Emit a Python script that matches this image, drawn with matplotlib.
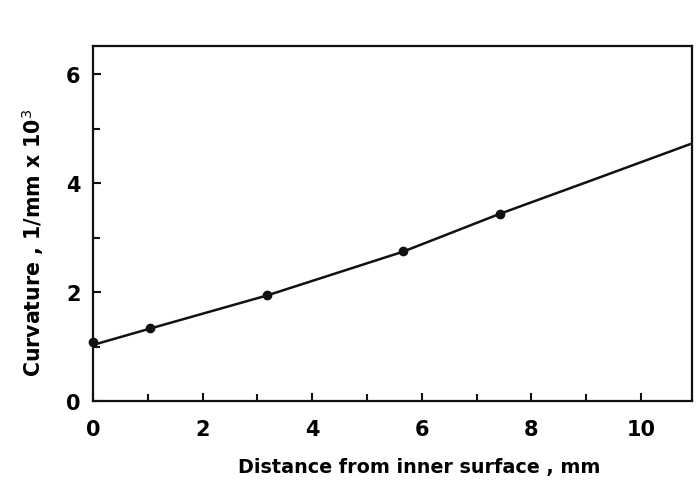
import matplotlib
matplotlib.use("Agg")
import matplotlib.pyplot as plt
from matplotlib.ticker import MultipleLocator

plt.rcParams['font.family'] = ['DejaVu Sans']

# measured points
dist = [0.0, 1.04, 3.18, 5.65, 7.43]
curv = [1.08, 1.34, 1.94, 2.75, 3.43]

# fitted curve
line_x = [0.0, 1.04, 3.18, 5.65, 7.43, 9.2, 10.93]
line_y = [1.03, 1.33, 1.94, 2.74, 3.44, 4.09, 4.73]

fig = plt.figure(figsize=(6.98, 4.81), dpi=100)
ax = fig.add_axes([0.1332, 0.1642, 0.858, 0.738])

ax.plot(line_x, line_y, color='#111111', lw=1.8, zorder=2)
ax.plot(dist, curv, 'o', color='#111111', ms=6, zorder=3, clip_on=False)

ax.set_xlim(0, 10.93)
ax.set_ylim(0, 6.52)
ax.xaxis.set_major_locator(MultipleLocator(2))
ax.xaxis.set_minor_locator(MultipleLocator(1))
ax.yaxis.set_major_locator(MultipleLocator(2))
ax.yaxis.set_minor_locator(MultipleLocator(1))
ax.tick_params(which='both', direction='in', top=False, right=False, width=1.5, color='#111111')
ax.tick_params(which='major', length=6, labelsize=15)
ax.tick_params(which='minor', length=5)
ax.tick_params(axis='x', pad=13)
ax.tick_params(axis='y', pad=9)
for s in ax.spines.values():
    s.set_linewidth(1.6)
    s.set_color('#111111')

ax.set_xlabel('Distance from inner surface , mm', fontsize=13.8, fontweight='bold')
ax.set_ylabel('Curvature , 1/mm x 10$^3$', fontsize=14.8, fontweight='bold')
ax.xaxis.set_label_coords(0.545, -0.158)
ax.yaxis.set_label_coords(-0.078, 0.448)
for lab in ax.get_xticklabels() + ax.get_yticklabels():
    lab.set_fontweight('bold')

fig.savefig('out.png', dpi=100)
